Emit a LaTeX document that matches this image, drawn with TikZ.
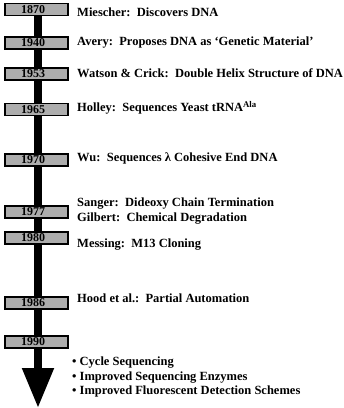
\documentclass[tikz,border=0pt]{standalone}
\usepackage{fontspec}
\setmainfont{Liberation Serif}
\usepackage{tikz}
\usetikzlibrary{arrows.meta}

\tikzset{
  yeartext/.style={font=\bfseries\fontsize{12}{12}\selectfont, inner sep=0pt},
  yearbox/.style={draw=black, fill=black!32, line width=1.1pt, minimum width=63pt, minimum height=12pt, inner sep=0pt,
    path picture={\node[yeartext, anchor=base] at ([xshift=-3.5pt, yshift=2.2pt]path picture bounding box.south) {#1};}},
  event/.style={anchor=west, font=\bfseries\fontsize{12.5}{14.5}\selectfont, inner sep=0pt, align=left},
  timeline/.style={line width=8pt, -{Triangle[width=30pt, length=40pt]}}
}

\begin{document}
\begin{tikzpicture}[x=1pt, y=-1pt]
    \useasboundingbox (0,0) rectangle (344,408);

    % Time axis
    \coordinate (top) at (38,10);
    \coordinate (bottom) at (38,408);
    \draw[timeline] (top) -- (bottom);

    % Year boxes
    \node[yearbox=1870] (b1870) at (36.5,9.5) {};
    \node[yearbox=1940] (b1940) at (36.5,43) {};
    \node[yearbox=1953] (b1953) at (36.5,74) {};
    \node[yearbox=1965] (b1965) at (36.5,109.5) {};
    \node[yearbox=1970] (b1970) at (36.5,160) {};
    \node[yearbox=1977] (b1977) at (36.5,212) {};
    \node[yearbox=1980] (b1980) at (36.5,238) {};
    \node[yearbox=1986] (b1986) at (36.5,303) {};
    \node[yearbox=1990] (b1990) at (36.5,342) {};

    % Events
    \node[event] (e1870) at (77,12) {Miescher:~~Discovers DNA};
    \node[event] (e1940) at (77,43) {Avery:~~Proposes DNA as `Genetic Material'};
    \node[event] (e1953) at (77,73) {Watson \& Crick:~~Double Helix Structure of DNA};
    \node[event] (e1965) at (77,108) {Holley:~~Sequences Yeast tRNA\textsuperscript{Ala}};
    \node[event] (e1970) at (77,158) {Wu:~~Sequences λ Cohesive End DNA};
    \node[event] (e1977) at (77,211) {Sanger:~~Dideoxy Chain Termination\\Gilbert:~~Chemical Degradation};
    \node[event] (e1980) at (77,245) {Messing:~~M13 Cloning};
    \node[event] (e1986) at (77,298) {Hood et al.:~~Partial Automation};
    \node[event] (e1990) at (72,377) {\textbullet{} Cycle Sequencing\\\textbullet{} Improved Sequencing Enzymes\\\textbullet{} Improved Fluorescent Detection Schemes};
\end{tikzpicture}
\end{document}
